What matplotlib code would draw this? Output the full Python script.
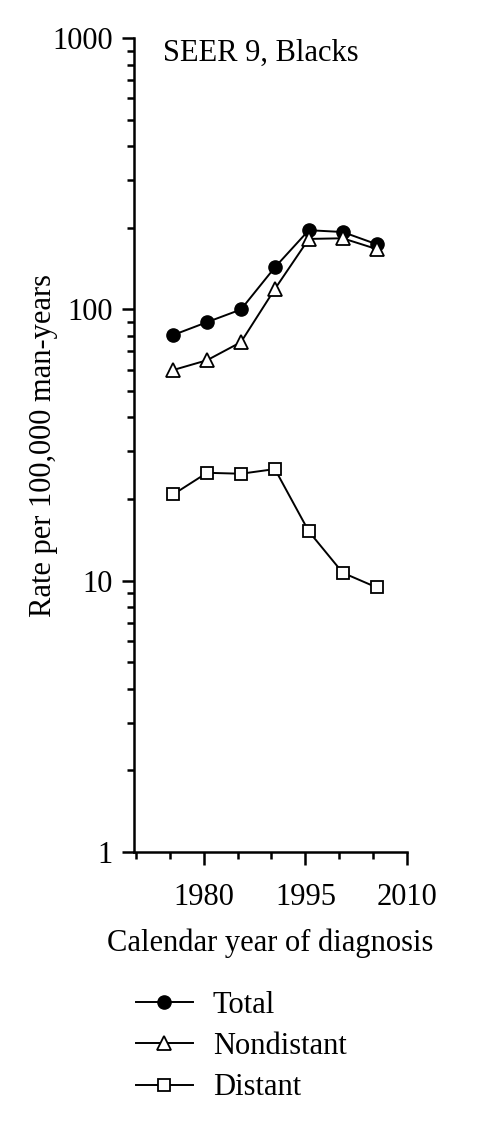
import matplotlib.pyplot as plt
from matplotlib.ticker import MultipleLocator, LogLocator, NullFormatter, FixedLocator

plt.rcParams['font.family'] = ['Liberation Serif', 'DejaVu Serif']

years = [1975.5, 1980.5, 1985.5, 1990.5, 1995.5, 2000.5, 2005.5]
total = [80.5, 89.8, 100, 143, 196, 193, 174]
nondistant = [59.8, 65, 75.8, 119, 182, 183, 167]
distant = [20.8, 25.0, 24.8, 25.8, 15.2, 10.7, 9.45]

fig = plt.figure(figsize=(4.83, 11.24), dpi=100)
ax = fig.add_axes([0.277, 0.242, 0.566, 0.724])

ax.plot(years, total, '-o', color='black', lw=1.4, ms=9.5, mfc='black', label='Total')
ax.plot(years, nondistant, '-^', color='black', lw=1.4, ms=9.5, mfc='white', mew=1.3, label='Nondistant')
ax.plot(years, distant, '-s', color='black', lw=1.4, ms=8, mfc='white', mew=1.3, label='Distant')

ax.set_yscale('log')
ax.set_ylim(1, 1000)
ax.set_xlim(1969.7, 2010)
ax.set_yticks([1, 10, 100, 1000])
ax.set_yticklabels(['1', '10', '100', '1000'])
ax.yaxis.set_minor_locator(LogLocator(base=10, subs=range(2, 10)))
ax.yaxis.set_minor_formatter(NullFormatter())
ax.xaxis.set_major_locator(FixedLocator([1980, 1995, 2010]))
ax.xaxis.set_minor_locator(MultipleLocator(5))

for s in ['top', 'right']:
    ax.spines[s].set_visible(False)
for s in ['left', 'bottom']:
    ax.spines[s].set_linewidth(1.8)

ax.tick_params(axis='both', which='major', direction='out', length=9, width=1.8, labelsize=22)
ax.tick_params(axis='both', which='minor', direction='out', length=5, width=1.8)
ax.tick_params(axis='x', which='major', pad=13)
ax.tick_params(axis='y', which='major', pad=6)

ax.set_xlabel('Calendar year of diagnosis', fontsize=22, labelpad=12)
ax.set_ylabel('Rate per 100,000 man-years', fontsize=22)
ax.yaxis.set_label_coords(-0.279, 0.5)
ax.text(0.106, 0.982, 'SEER 9, Blacks', transform=ax.transAxes, fontsize=22, va='center', ha='left')

fig.legend(loc='upper left', bbox_to_anchor=(0.224, 0.143), frameon=False, fontsize=22,
           handlelength=1.87, handletextpad=0.65, labelspacing=0.4)

fig.savefig('out.png', dpi=100)
